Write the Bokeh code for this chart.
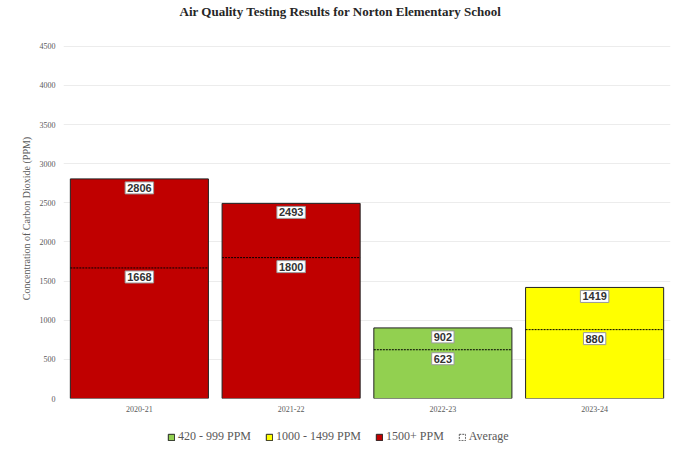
from bokeh.plotting import figure
from bokeh.layouts import column
from bokeh.models import ColumnDataSource, Label, Legend, LegendItem, FactorRange, Range1d, FixedTicker
from bokeh.transform import dodge
from bokeh.embed import file_html
from bokeh.resources import INLINE

title_text = "Air Quality Testing Results for Norton Elementary School"
years = ["2020-21", "2021-22", "2022-23", "2023-24"]
max_ppm = [2806, 2493, 902, 1419]
avg_ppm = [1668, 1800, 623, 880]
levels = ["1500+ PPM", "1500+ PPM", "420 - 999 PPM", "1000 - 1499 PPM"]
legend_labels = ["420 - 999 PPM", "1000 - 1499 PPM", "1500+ PPM"]
level_colors = {"420 - 999 PPM": "#92D050", "1000 - 1499 PPM": "#FFFF00", "1500+ PPM": "#C00000"}
y_ticks = [0, 500, 1000, 1500, 2000, 2500, 3000, 3500, 4000, 4500]

SERIF = "Liberation Serif"
SANS = "Liberation Sans"
BAR_W = 0.91
LEFT, RIGHT = 63, 670  # frame edges (column layout aligns all frames)


def strip(h):
    f = figure(width=680, height=h, x_range=Range1d(LEFT, RIGHT), y_range=Range1d(0, h),
               x_axis_type=None, y_axis_type=None, output_backend="svg", toolbar_location=None,
               min_border_left=0, min_border_right=0, min_border_top=0, min_border_bottom=0)
    f.outline_line_color = None
    f.xgrid.grid_line_color = None
    f.ygrid.grid_line_color = None
    return f


# title strip
t = strip(38)
t.add_layout(Label(x=340, y=27, text=title_text, text_align="center", text_baseline="middle",
                   text_font=SERIF, text_font_size="13px", text_font_style="bold",
                   text_color="#262626"))

# main chart
p = figure(width=680, height=384, x_range=FactorRange(factors=years), y_range=Range1d(0, 4600),
           output_backend="svg", toolbar_location=None,
           min_border_left=LEFT, min_border_right=680 - RIGHT, min_border_top=0, min_border_bottom=24)

p.outline_line_color = None
p.xgrid.grid_line_color = None
p.ygrid.grid_line_color = "#ECECEC"
p.ygrid.ticker = FixedTicker(ticks=y_ticks)

p.yaxis.ticker = FixedTicker(ticks=y_ticks)
p.yaxis.axis_label = "Concentration of Carbon Dioxide (PPM)"
p.yaxis.axis_label_text_font = SERIF
p.yaxis.axis_label_text_font_size = "10px"
p.yaxis.axis_label_text_font_style = "normal"
p.yaxis.axis_label_text_color = "#595959"
p.yaxis.axis_label_standoff = 5
for ax in (p.xaxis, p.yaxis):
    ax.axis_line_color = None
    ax.major_tick_line_color = None
    ax.minor_tick_line_color = None
    ax.major_tick_out = 0
    ax.major_tick_in = 0
    ax.minor_tick_out = 0
    ax.major_label_text_font = SERIF
    ax.major_label_text_font_size = "8px"
    ax.major_label_text_color = "#595959"
p.yaxis.major_label_standoff = 8
p.xaxis.major_label_standoff = 7

for lvl in legend_labels:
    idx = [i for i, l in enumerate(levels) if l == lvl]
    src = ColumnDataSource(dict(x=[years[i] for i in idx], top=[max_ppm[i] for i in idx]))
    p.vbar(x="x", top="top", bottom=0, width=BAR_W, source=src,
           fill_color=level_colors[lvl], line_color="#222222", line_width=1)

src = ColumnDataSource(dict(x=years, yv=avg_ppm))
p.segment(x0=dodge("x", -BAR_W / 2, range=p.x_range), y0="yv",
          x1=dodge("x", BAR_W / 2, range=p.x_range), y1="yv", source=src,
          line_color="#000000", line_width=1, line_dash="2 1")

for vals in (max_ppm, avg_ppm):
    for i, v in enumerate(vals):
        lab = Label(x=i + 0.5, y=v, text=str(v), y_offset=-9,
                    text_align="center", text_baseline="middle",
                    text_font=SANS, text_font_size="11px", text_font_style="bold",
                    text_color="#333333", background_fill_color="white",
                    border_line_color="#9A9A9A", border_line_width=1, padding=2)
        p.add_layout(lab)

# legend strip below the chart
q = strip(36)
legend_items = []
for lvl in legend_labels:
    r = q.vbar(x=[-50], top=[-50], bottom=[-60], width=5,
               fill_color=level_colors[lvl], line_color="#222222", line_width=1)
    legend_items.append(LegendItem(label=lvl, renderers=[r]))
dummy = q.vbar(x=[-50], top=[-50], bottom=[-60], width=5,
               fill_color="white", line_color="#555555", line_dash="2 1", line_width=1)
legend_items.append(LegendItem(label="Average", renderers=[dummy]))

legend = Legend(items=legend_items, orientation="horizontal", location=(104, 14),
                glyph_width=8, glyph_height=8, label_standoff=3, spacing=14,
                padding=0, margin=0, border_line_color=None, background_fill_alpha=0,
                label_text_font=SERIF, label_text_font_size="12px", label_text_color="#595959")
q.add_layout(legend)

layout = column(t, p, q, spacing=0)
open("out.html", "w").write(file_html(layout, INLINE))
